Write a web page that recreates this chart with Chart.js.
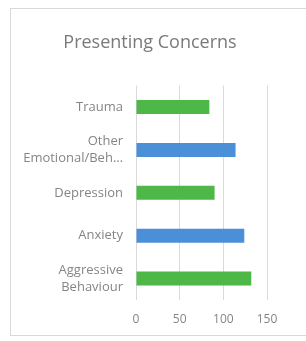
<!DOCTYPE html>
<html>
<head>
<meta charset="utf-8">
<script src="https://cdn.jsdelivr.net/npm/chart.js@4.4.1/dist/chart.umd.min.js"></script>
<style>
  html, body { margin: 0; padding: 0; background: #fff; }
  body { width: 306px; height: 341px; position: relative; overflow: hidden; }
  .box { position: absolute; left: 10px; top: 8px; width: 310px; height: 326px;
         border: 1px solid #d9d9d9; }
  .box canvas { position: absolute; left: 0; top: 0; }
</style>
</head>
<body>
<div class="box">
  <canvas id="concernsChart" width="290" height="326"></canvas>
</div>
<script>
// presenting concerns, top to bottom as in the picture
const categories = [
    "Trauma",
    ["Other", "Emotional/Beh\u2026"],
    "Depression",
    "Anxiety",
    ["Aggressive", "Behaviour"]
];
const counts = [84, 114, 90, 124, 132];
const barColors = ["#4db848", "#4a8fd8", "#4db848", "#4a8fd8", "#4db848"];
const xTicks = [0, 50, 100, 150];

const labelColor = "#858585";

document.addEventListener("DOMContentLoaded", function () {
    const ctx = document.getElementById("concernsChart");
    if (!ctx) return;

    new Chart(ctx.getContext("2d"), {
        type: "bar",
        data: {
            labels: categories,
            datasets: [{
                data: counts,
                backgroundColor: barColors,
                borderWidth: 0,
                barPercentage: 0.65,
                categoryPercentage: 0.5
            }]
        },
        options: {
            indexAxis: "y",
            responsive: false,
            animation: false,
            layout: {
                padding: { left: 0, right: 12, top: 0, bottom: 8.6 }
            },
            plugins: {
                legend: { display: false },
                tooltip: { enabled: false },
                title: {
                    display: true,
                    text: "Presenting Concerns",
                    color: "#7a7a7a",
                    font: { family: "Open Sans", size: 18, weight: "normal", lineHeight: 1.2 },
                    padding: { top: 23.5, bottom: 31.5 }
                }
            },
            scales: {
                x: {
                    min: 0,
                    max: 150,
                    afterBuildTicks: function (scale) {
                        scale.ticks = xTicks.map(v => ({ value: v }));
                    },
                    afterFit: function (scale) {
                        scale.height = 26.4;
                        scale.paddingLeft = 0;
                        scale.paddingRight = 0;
                    },
                    grid: { color: "#d9d9d9", drawTicks: false },
                    border: { display: false },
                    ticks: {
                        color: labelColor,
                        padding: 12,
                        font: { family: "Open Sans", size: 12, lineHeight: 1.2 }
                    }
                },
                y: {
                    afterFit: function (scale) {
                        scale.width = 125;
                        scale.paddingTop = 0;
                        scale.paddingBottom = 0;
                    },
                    grid: { display: false, drawTicks: false },
                    border: { display: false },
                    ticks: {
                        color: labelColor,
                        padding: 13,
                        font: { family: "Open Sans", size: 13, lineHeight: 1.3 }
                    }
                },
                // empty strip on the right so the title stays centred over the box
                yRight: {
                    type: "category",
                    position: "right",
                    afterFit: function (scale) {
                        scale.width = 22;
                        scale.paddingTop = 0;
                        scale.paddingBottom = 0;
                    },
                    grid: { display: false, drawTicks: false },
                    border: { display: false },
                    ticks: { display: false }
                }
            }
        }
    });
});
</script>
</body>
</html>
